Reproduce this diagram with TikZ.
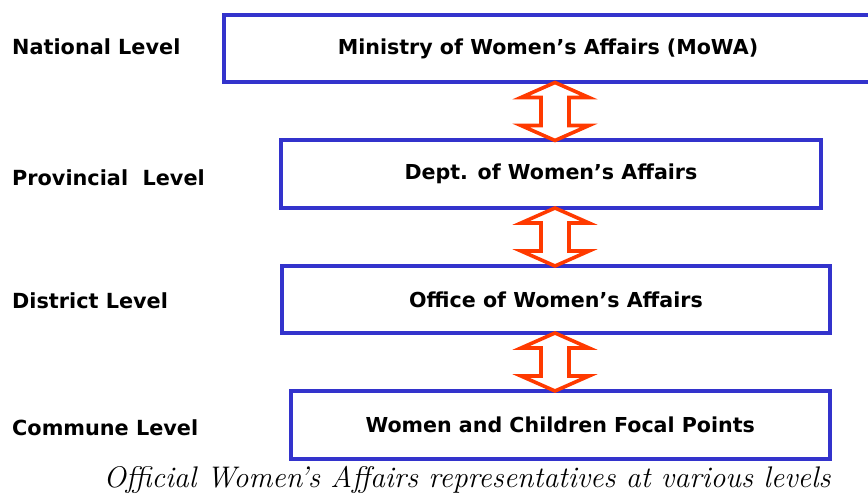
\documentclass[tikz,border=0pt]{standalone}
\usepackage{fontspec}
\setmainfont{DejaVu Sans}
\usetikzlibrary{calc}
\definecolor{boxblue}{RGB}{51,51,204}
\definecolor{arrred}{RGB}{255,58,0}
\newcommand\twoway[2]{%
  \draw[fatarrow] let \p1=(#1.south), \p2=(#2.north) in
    (555pt,\y1) -- ++(34pt,-15pt) -- ++(-20pt,0pt) -- (569pt,\y2+15pt)
    -- ++(20pt,0pt) -- (555pt,\y2) -- ++(-34pt,15pt) -- ++(20pt,0pt)
    -- (541pt,\y1-15pt) -- ++(-20pt,0pt) -- cycle;}
\begin{document}
\begin{tikzpicture}[x=1pt,y=-1pt,
  box/.style={draw=boxblue,line width=4pt,fill=white,inner sep=0pt,outer sep=0pt,
    minimum height=67.5pt,font=\fontsize{20.6}{24}\selectfont\bfseries},
  lvl/.style={anchor=base west,inner sep=0pt,font=\fontsize{20.8}{24}\selectfont\bfseries},
  fatarrow/.style={draw=arrred,line width=3.6pt,fill=white,line join=miter}]
\useasboundingbox (0,0) rectangle (868,497);
\fill[white] (0,0) rectangle (868,497);
\node[box,minimum width=648pt] (b1) at (548,48.75) {Ministry of Women’s Affairs (MoWA)};
\node[box,minimum width=540pt] (b2) at (551,174.25) {Dept. of Women’s Affairs};
\node[box,minimum width=548pt,minimum height=67pt] (b3) at (556,299.5) {Office of Women’s Affairs};
\node[box,minimum width=539.5pt] (b4) at (560.25,424.75) {Women and Children Focal Points};
\node[lvl] (l1) at (12,54.5) {National Level};
\node[lvl] (l2) at (12,185.5) {Provincial\ \ Level};
\node[lvl] (l3) at (12,308.5) {District Level};
\node[lvl] (l4) at (12,435.5) {Commune Level};
\twoway{b1}{b2}
\twoway{b2}{b3}
\twoway{b3}{b4}
\node[anchor=base,inner sep=0pt] (cap) at (467,487)
  {\fontspec{Latin Modern Roman}\fontsize{29.8}{32}\selectfont\itshape Official Women’s Affairs representatives at various levels};
\end{tikzpicture}
\end{document}
